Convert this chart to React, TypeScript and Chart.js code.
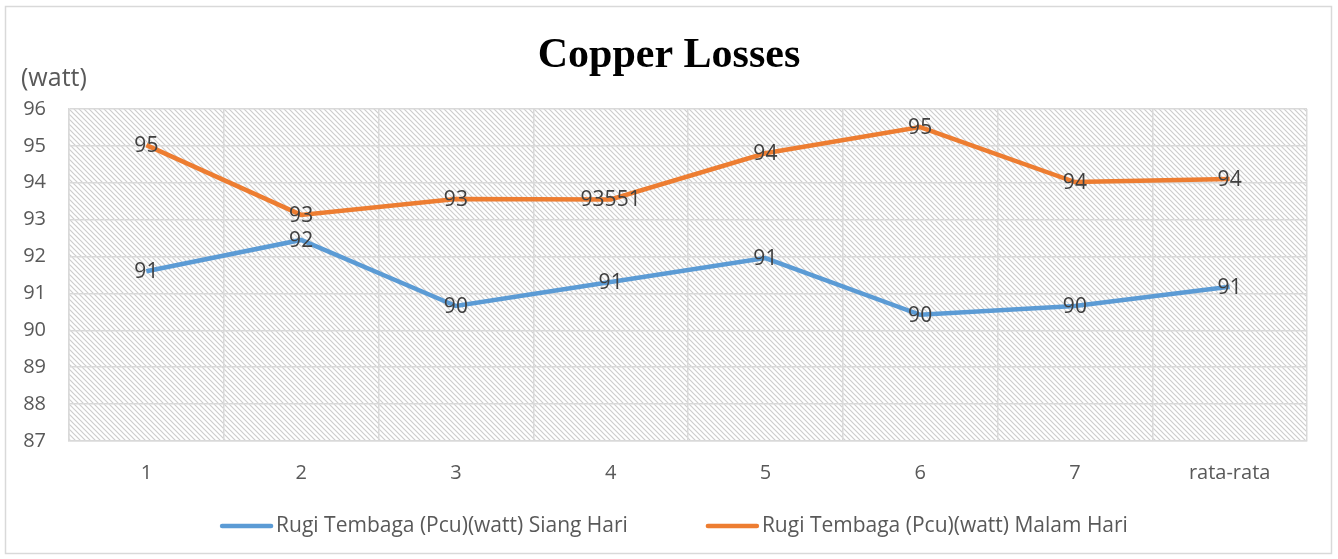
import React, { useEffect, useRef } from "react";
import { Chart, registerables } from "chart.js";

Chart.register(...registerables);

const categories = ["1", "2", "3", "4", "5", "6", "7", "rata-rata"];
const siangValues = [91.6, 92.45, 90.66, 91.31, 91.96, 90.42, 90.66, 91.18];
const malamValues = [95.02, 93.13, 93.56, 93.55, 94.8, 95.51, 94.02, 94.1];
const siangLabels = ["91", "92", "90", "91", "91", "90", "90", "91"];
const malamLabels = ["95", "93", "93", "93551", "94", "95", "94", "94"];
const seriesNames = [
  "Rugi Tembaga (Pcu)(watt) Siang Hari",
  "Rugi Tembaga (Pcu)(watt) Malam Hari",
];
const yTicks = [87, 88, 89, 90, 91, 92, 93, 94, 95, 96];
const titleText = "Copper Losses";
const yUnit = "(watt)";

const BLUE = "#5b9bd5";
const ORANGE = "#ed7d31";
const FONT = "'Open Sans', sans-serif";

function makePattern(ctx: CanvasRenderingContext2D) {
  const c = document.createElement("canvas");
  const s = 5;
  c.width = s;
  c.height = s;
  const p = c.getContext("2d")!;
  p.fillStyle = "#ffffff";
  p.fillRect(0, 0, s, s);
  p.strokeStyle = "#cdcdcd";
  p.lineWidth = 1.2;
  p.beginPath();
  p.moveTo(-1, -1);
  p.lineTo(s + 1, s + 1);
  p.moveTo(-1, s - 1);
  p.lineTo(1, s + 1);
  p.moveTo(s - 1, -1);
  p.lineTo(s + 1, 1);
  p.stroke();
  return ctx.createPattern(c, "repeat");
}

export default function App() {
  const ref = useRef<HTMLCanvasElement>(null);
  useEffect(() => {
    document.body.style.margin = "0";
    const canvas = ref.current!;
    const dataLabels = [siangLabels, malamLabels];

    const decor = {
      id: "decor",
      beforeDraw(chart: any) {
        const { ctx, chartArea, width, height } = chart;
        ctx.save();
        ctx.fillStyle = "#ffffff";
        ctx.fillRect(0, 0, width, height);
        ctx.strokeStyle = "#d9d9d9";
        ctx.lineWidth = 1.5;
        ctx.strokeRect(5.5, 6.5, width - 12, height - 12);
        const pat = makePattern(ctx);
        if (pat) {
          ctx.fillStyle = pat;
          ctx.fillRect(
            chartArea.left,
            chartArea.top,
            chartArea.right - chartArea.left,
            chartArea.bottom - chartArea.top
          );
        }
        ctx.restore();
      },
      afterDraw(chart: any) {
        const { ctx, width } = chart;
        ctx.save();
        ctx.fillStyle = "#000000";
        ctx.font = "bold 42px 'Liberation Serif', 'Times New Roman', serif";
        ctx.textAlign = "center";
        ctx.textBaseline = "alphabetic";
        ctx.fillText(titleText, width / 2, 67);

        ctx.fillStyle = "#595959";
        ctx.font = `25px ${FONT}`;
        ctx.textAlign = "left";
        ctx.fillText(yUnit, 21, 86);

        // legend
        ctx.font = `21px ${FONT}`;
        const lineLen = 53;
        const gapText = 3;
        const itemGap = 78;
        const colors = [BLUE, ORANGE];
        const widths = seriesNames.map((n) => ctx.measureText(n).width);
        const total =
          widths.reduce((a, b) => a + b, 0) +
          seriesNames.length * (lineLen + gapText) +
          itemGap * (seriesNames.length - 1);
        let x = width / 2 + 5 - total / 2;
        const y = 526;
        seriesNames.forEach((n, i) => {
          ctx.strokeStyle = colors[i];
          ctx.lineWidth = 4.5;
          ctx.lineCap = "round";
          ctx.beginPath();
          ctx.moveTo(x + 2, y);
          ctx.lineTo(x + lineLen - 2, y);
          ctx.stroke();
          ctx.fillStyle = "#595959";
          ctx.textBaseline = "middle";
          ctx.fillText(n, x + lineLen + gapText, y);
          x += lineLen + gapText + widths[i] + itemGap;
        });
        ctx.restore();
      },
      afterDatasetsDraw(chart: any) {
        const { ctx } = chart;
        ctx.save();
        ctx.font = `21px ${FONT}`;
        ctx.fillStyle = "#404040";
        ctx.textAlign = "center";
        ctx.textBaseline = "middle";
        chart.data.datasets.forEach((ds: any, di: number) => {
          const meta = chart.getDatasetMeta(di);
          meta.data.forEach((pt: any, i: number) => {
            ctx.fillText(dataLabels[di][i], pt.x, pt.y + 1);
          });
        });
        ctx.restore();
      },
    };

    const chart = new Chart(canvas, {
      type: "line",
      data: {
        labels: categories,
        datasets: [
          {
            label: seriesNames[0],
            data: siangValues,
            borderColor: BLUE,
            backgroundColor: BLUE,
            borderWidth: 4.5,
            pointRadius: 0,
            tension: 0,
          },
          {
            label: seriesNames[1],
            data: malamValues,
            borderColor: ORANGE,
            backgroundColor: ORANGE,
            borderWidth: 4.5,
            pointRadius: 0,
            tension: 0,
          },
        ],
      },
      options: {
        animation: false,
        responsive: false,
        maintainAspectRatio: false,
        layout: { padding: { left: 0, top: 109, right: 31, bottom: 78 } },
        plugins: {
          legend: { display: false },
          title: { display: false },
          tooltip: { enabled: false },
        },
        scales: {
          x: {
            type: "category",
            offset: true,
            grid: { offset: true, color: "#d9d9d9", lineWidth: 1.5, drawTicks: false },
            border: { color: "#d9d9d9", width: 1.5 },
            ticks: { color: "#595959", font: { size: 20, family: FONT }, padding: 20 },
            afterFit: (s: any) => {
              s.height = 40;
            },
          },
          y: {
            min: 87,
            max: 96,
            afterBuildTicks: (s: any) => {
              s.ticks = yTicks.map((v) => ({ value: v }));
            },
            grid: { color: "#d9d9d9", lineWidth: 1.5, drawTicks: false },
            border: { color: "#d9d9d9", width: 1.5 },
            ticks: { color: "#595959", font: { size: 20, family: FONT }, padding: 23 },
            afterFit: (s: any) => {
              s.width = 69;
            },
          },
        },
      },
      plugins: [decor],
    } as any);
    return () => chart.destroy();
  }, []);
  return (
    <div style={{ position: "fixed", left: 0, top: 0, width: 1338, height: 559 }}>
      <canvas ref={ref} width={1338} height={559} style={{ width: 1338, height: 559 }} />
    </div>
  );
}
